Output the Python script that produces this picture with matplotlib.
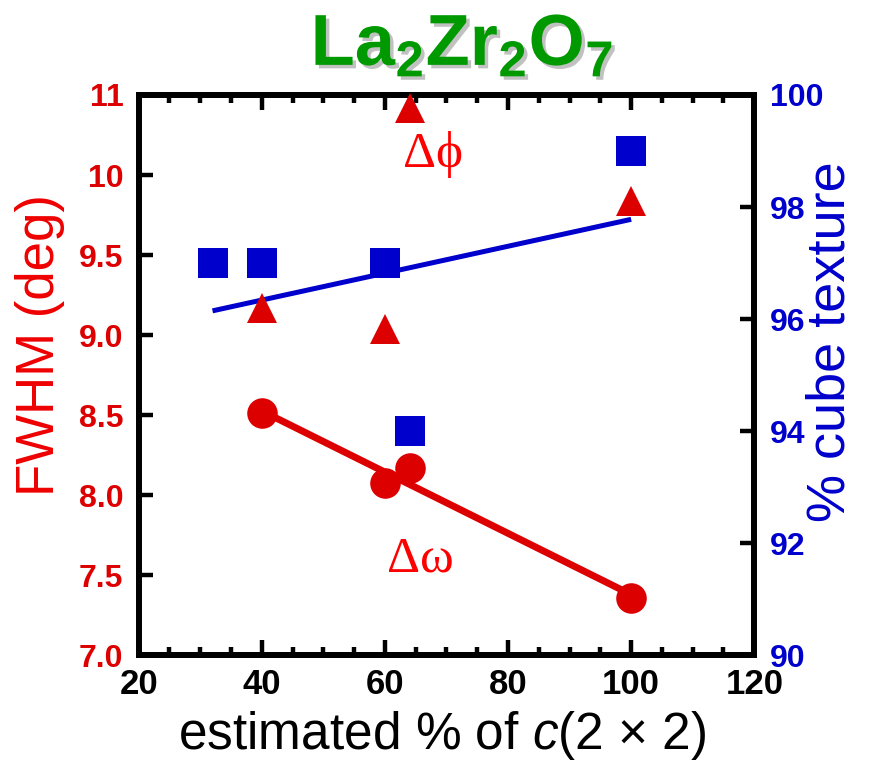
import numpy as np
import matplotlib.pyplot as plt
import matplotlib.patheffects as pe
from matplotlib.ticker import MultipleLocator, FixedLocator

plt.rcParams['font.family'] = ['Liberation Sans', 'DejaVu Sans']
plt.rcParams['mathtext.fontset'] = 'custom'
plt.rcParams['mathtext.rm'] = 'Liberation Sans'
plt.rcParams['mathtext.it'] = 'Liberation Sans:italic'
plt.rcParams['mathtext.bf'] = 'Liberation Sans:bold'

# FWHM of the in-plane (phi) and out-of-plane (omega) scans, and cube texture
omega_x = [40, 60, 64, 100]
omega_fwhm = [8.51, 8.075, 8.17, 7.36]
phi_x = [40, 60, 64, 100]
phi_fwhm = [9.17, 9.04, 10.42, 9.84]
cube_x = [32, 40, 60, 64, 100]
cube_pct = [97, 97, 97, 94, 99]

left_ticks = [7.0, 7.5, 8.0, 8.5, 9.0, 9.5, 10.0, 10.5]
left_labels = ['7.0', '7.5', '8.0', '8.5', '9.0', '9.5', '10', '11']
right_ticks = [90, 92, 94, 96, 98, 100]

RED = '#dd0000'
BLUE = '#0000cc'
GREEN = '#009900'

fig = plt.figure(figsize=(8.72, 7.6), dpi=100)
ax = fig.add_axes([0.159, 0.138, 0.706, 0.737])
ax2 = ax.twinx()
# keep the red points above the blue fit
ax.set_zorder(ax2.get_zorder() + 1)
ax.patch.set_visible(False)

# linear fits
p_om = np.polyfit(omega_x, omega_fwhm, 1)
xo = np.array([min(omega_x), max(omega_x)])
ax.plot(xo, np.polyval(p_om, xo), color=RED, lw=5, solid_capstyle='butt', zorder=2)
p_cu = np.polyfit(cube_x, cube_pct, 1)
xc = np.array([min(cube_x), max(cube_x)])
ax2.plot(xc, np.polyval(p_cu, xc), color=BLUE, lw=3.6, solid_capstyle='butt', zorder=2)

ax.plot(omega_x, omega_fwhm, 'o', color=RED, ms=22, mew=0, zorder=3, clip_on=False)
ax.plot(phi_x, phi_fwhm, '^', color=RED, ms=22, mew=0, zorder=3, clip_on=False)
ax2.plot(cube_x, cube_pct, 's', color=BLUE, ms=22, mew=0, zorder=3, clip_on=False)

ax.text(63.0, 10.05, 'Δϕ', color='#ff0000', fontsize=37,
        family=['Liberation Serif', 'DejaVu Serif'], va='baseline', ha='left')
ax.text(60.3, 7.52, 'Δω', color='#ff0000', fontsize=37,
        family=['Liberation Serif', 'DejaVu Serif'], va='baseline', ha='left')

ax.set_xlim(20, 120)
ax.set_ylim(7.0, 10.5)
ax2.set_ylim(90, 100)

ax.xaxis.set_major_locator(MultipleLocator(20))
ax.xaxis.set_minor_locator(MultipleLocator(5))
ax.yaxis.set_major_locator(FixedLocator(left_ticks))
ax.set_yticklabels(left_labels)
ax2.yaxis.set_major_locator(FixedLocator(right_ticks))

ax.tick_params(axis='x', which='both', direction='in', top=True, bottom=True,
               width=3.2, labelsize=25, pad=9)
ax.tick_params(axis='x', which='major', length=11)
ax.tick_params(axis='x', which='minor', length=6)
ax.tick_params(axis='y', direction='in', left=True, right=False, length=10,
               width=3.2, labelsize=23, labelcolor=RED, pad=11)
ax2.tick_params(axis='y', direction='in', length=10, width=3.2,
                labelsize=23, labelcolor=BLUE, pad=11)

for lbl in ax.get_xticklabels() + ax.get_yticklabels() + ax2.get_yticklabels():
    lbl.set_fontweight('bold')

for a in (ax, ax2):
    for sp in a.spines.values():
        sp.set_linewidth(4.2)

ax.set_xlabel(r'estimated % of $\mathit{c}$(2 × 2)', fontsize=37,
              va='center', ha='center')
ax.xaxis.set_label_coords(0.493, -0.143)
ax.set_ylabel('FWHM (deg)', color='#ee0000', fontsize=38, va='center', ha='center')
ax.yaxis.set_label_coords(-0.16, 0.554)
ax2.set_ylabel('% cube texture', color=BLUE, fontsize=39, va='center',
               ha='center', rotation=90)
ax2.yaxis.set_label_coords(1.123, 0.559)

fig.text(462 / 872, 1 - 65 / 760, r'$\mathbf{La_2Zr_2O_7}$', color=GREEN,
         fontsize=52, ha='center', va='baseline',
         path_effects=[pe.SimplePatchShadow(offset=(2.5, -2.5),
                                            shadow_rgbFace='#999999', alpha=0.6),
                       pe.Normal()])

fig.savefig('out.png', dpi=100)
